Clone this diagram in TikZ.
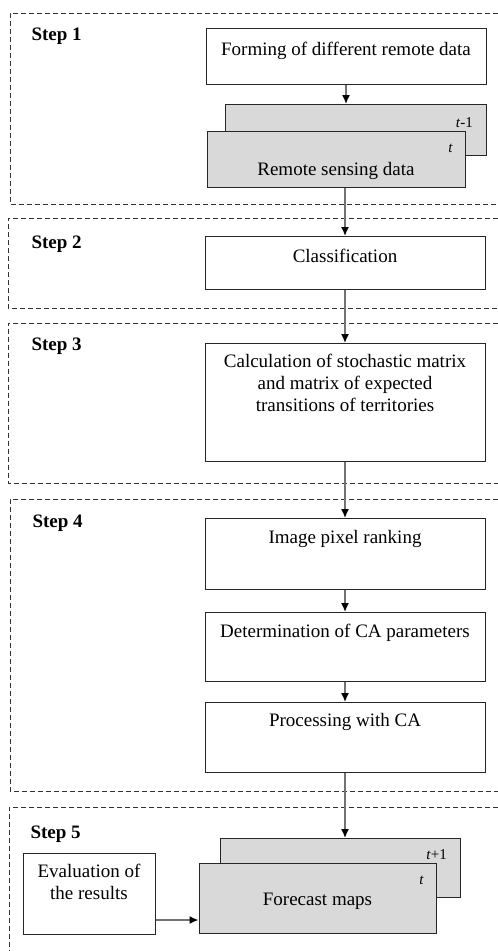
\documentclass[tikz,border=0pt]{standalone}
\usepackage{fontspec}
\setmainfont{Liberation Serif}
\usetikzlibrary{arrows.meta,positioning}
\definecolor{mapgray}{RGB}{217,217,217}
\tikzset{
    stepframe/.style={dash pattern=on 5pt off 3pt,line width=0.9pt,draw=black!80},
    stage/.style={font=\fontsize{19}{22}\selectfont\bfseries,anchor=base west},
    proc/.style={draw=black!85,line width=1pt,fill=white,anchor=north,align=center,inner ysep=0pt,inner xsep=2pt,font=\fontsize{19}{22}\selectfont},
    stack/.style={proc,fill=mapgray},
    timelabel/.style={font=\fontsize{15}{17}\selectfont,anchor=base east,inner sep=0pt},
    flow/.style={-{Latex[length=9pt,width=8pt,color=black]},draw=black!55,line width=1.5pt}
}
\def\boxw{280pt}

\begin{document}
\begin{tikzpicture}[x=1pt,y=-1pt]
  \useasboundingbox (0,0) rectangle (498,951);

  % Step frames
  \draw[stepframe] (498,13) -| (10,204) -- (498,204);
  \draw[stepframe] (498,218) -| (8,308) -- (498,308);
  \draw[stepframe] (498,323) -| (8,483) -- (498,483);
  \draw[stepframe] (498,499) -| (10,791) -- (498,791);
  \draw[stepframe] (498,807) -| (9,951);
  \node[stage] (step1) at (28,40) {Step 1};
  \node[stage] (step2) at (28,248) {Step 2};
  \node[stage] (step3) at (28,350) {Step 3};
  \node[stage] (step4) at (29,527) {Step 4};
  \node[stage] (step5) at (27,838) {Step 5};

  % Step 1
  \node[proc,minimum width=\boxw,text height=27pt,text depth=29pt] (forming) at (346,28) {Forming of different remote data};
  \node[stack,minimum width=261pt,minimum height=51pt] (rsback) at (355.5,104) {};
  \node[stack,minimum width=258pt,text height=44pt,text depth=12pt] (rsfront) at (336,131) {Remote sensing data};
  \node[timelabel] (rsprev) at (473,127) {\textit{t}-1};
  \node[timelabel] (rscur) at (453,152) {\textit{t}};

  % Steps 2-4
  \node[proc,minimum width=\boxw,text height=26pt,text depth=27pt] (classif) at (345,236) {Classification};
  \node[proc,minimum width=\boxw,text height=68pt,text depth=50pt] (calc) at (345,343) {Calculation of stochastic matrix\\and matrix of expected\\transitions of territories};
  \node[proc,minimum width=\boxw,text height=25pt,text depth=46pt] (pixel) at (345,518) {Image pixel ranking};
  \node[proc,minimum width=\boxw,text height=25pt,text depth=44pt] (determ) at (345,612) {Determination of CA parameters};
  \node[proc,minimum width=\boxw,text height=24pt,text depth=46pt] (ca) at (345,702) {Processing with CA};

  % Step 5
  \node[stack,minimum width=240pt,minimum height=59pt] (fcback) at (340,838) {};
  \node[stack,minimum width=237pt,text height=42pt,text depth=28pt] (fcfront) at (317.5,863) {Forecast maps};
  \node[timelabel] (fcnext) at (447,859) {\textit{t}+1};
  \node[timelabel] (fccur) at (424,884) {\textit{t}};
  \node[proc,minimum width=132pt,text height=46pt,text depth=35pt] (eval) at (89,853) {Evaluation of\\the results};

  % Arrows
  \draw[flow] (forming) -- (forming |- rsback.north);
  \draw[flow] (rsfront.south -| classif.north) -- (classif);
  \draw[flow] (classif) -- (calc);
  \draw[flow] (calc) -- (pixel);
  \draw[flow] (pixel) -- (determ);
  \draw[flow] (determ) -- (ca);
  \draw[flow] (ca) -- (ca |- fcback.north);
  \draw[flow] ([yshift=15pt]eval.south east) -- ([yshift=15pt]eval.south east -| fcfront.west);
\end{tikzpicture}
\end{document}
